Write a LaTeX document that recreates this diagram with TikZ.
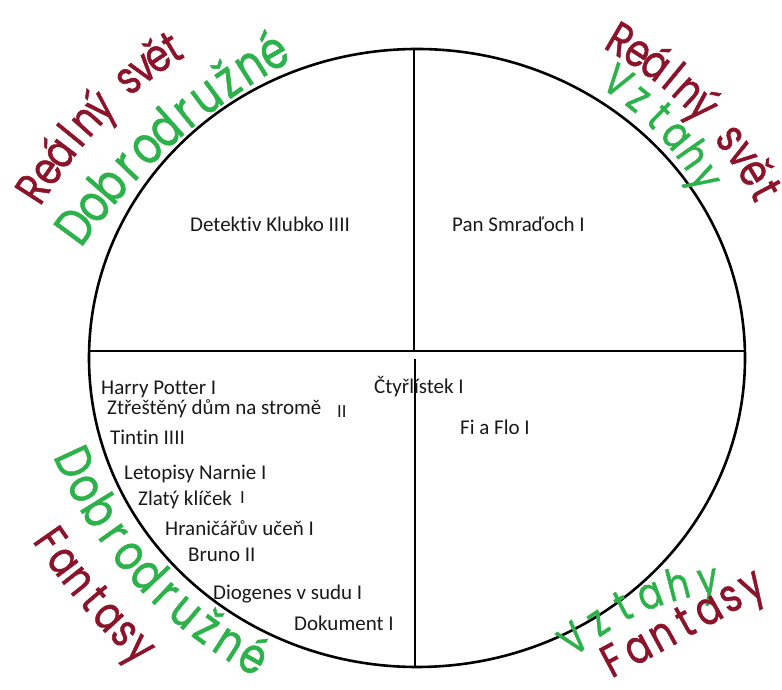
\documentclass[tikz,border=0pt]{standalone}
\usepackage{fontspec}
\setmainfont{Carlito}[Ligatures=NoCommon]
\newfontfamily\hand{Poppins}[FakeStretch=0.8,FakeBold=1]
\definecolor{hred}{RGB}{139,20,42}
\definecolor{hgreen}{RGB}{45,178,75}
\definecolor{ink}{RGB}{25,25,25}
% letters spread evenly along a curve
\newcommand\curvetext[8]{%
  \foreach \ch [count=\i] in {#8} {%
    \pgfmathsetmacro\lpos{(\i-0.5)/#3}%
    \path #4 .. controls #5 and #6 .. #7 node[#2, pos=\lpos] (#1\i) {\ch};
  }}
\begin{document}
\begin{tikzpicture}[x=1pt,y=1pt,
  book/.style={anchor=base west, inner sep=0pt, font=\fontsize{21}{24}\selectfont, text=ink},
  tally/.style={anchor=base west, inner sep=0pt, font=\fontsize{18.5}{20}\selectfont, text=ink},
  rim/.style={line width=2.6pt, draw=black},
  divider/.style={line width=2.4pt, draw=black},
  hw/.style={sloped, anchor=base, inner sep=0pt, text=#1},
  hs/.style={font=\hand\fontsize{#1}{#1}\selectfont},
]
\useasboundingbox (0,0) rectangle (782,690);
% circle
\draw[rim] (417,332) ellipse [x radius=328, y radius=309];
% divider lines
\coordinate (W) at (89,339);
\coordinate (E) at (745,339);
\coordinate (N) at (414,641);
\coordinate (C) at (414,339);
\coordinate (Cs) at (415,331);
\coordinate (S) at (415,23);
\draw[divider] (W) -- (E);
\draw[divider] (N) -- (C);
\draw[divider] (Cs) -- (S);
% books
\node[book] (detektiv) at (190,458) {Detektiv Klubko IIII};
\node[book] (pan) at (452,458) {Pan Smraďoch I};
\node[book] (harry) at (101,295.7) {Harry Potter I};
\node[book] (ztrest) at (107,275.7) {Ztřeštěný dům na stromě};
\node[tally] (ztrestII) at (337,272) {II};
\node[book] (tintin) at (110,245) {Tintin IIII};
\node[book] (letopisy) at (124,210.7) {Letopisy Narnie I};
\node[book] (zlaty) at (138,184) {Zlatý klíček};
\node[tally] (zlatyI) at (240,186) {I};
\node[book] (hranicar) at (165,154) {Hraničářův učeň I};
\node[book] (bruno) at (188,128.3) {Bruno II};
\node[book] (diogenes) at (213,90) {Diogenes v sudu I};
\node[book] (dokument) at (294,59.3) {Dokument I};
\node[book] (ctyr) at (374,296) {Čtyřlístek I};
\node[book] (fiaflo) at (460,255.7) {Fi a Flo I};
% handwritten labels
% top-left
\curvetext{tlr}{hw=hred,hs=46}{11}{(40,483)}{(84.3,554)}{(133.3,604.3)}{(187,634)}{R,e,á,l,n,ý,{},s,v,ě,t}
\curvetext{tlg}{hw=hgreen,hs=52}{11}{(82,443)}{(137,521.3)}{(207.3,583)}{(293,630)}{D,o,b,r,o,d,r,u,ž,n,é}
% top-right
\curvetext{trr}{hw=hred,hs=46}{11}{(603,642)}{(671.7,604.3)}{(723,551.3)}{(757,483)}{R,e,á,l,n,ý,{},s,v,ě,t}
\curvetext{trg}{hw=hgreen,hs=44}{6}{(598,604)}{(644,575)}{(678,538.7)}{(700,495)}{V,z,t,a,h,y}
% bottom-left
\curvetext{blg}{hw=hgreen,hs=50}{11}{(53,234)}{(95.3,134.7)}{(163.7,61.3)}{(258,12)}{D,o,b,r,o,d,r,u,ž,n,é}
\curvetext{blr}{hw=hred,hs=46}{7}{(30,152)}{(64.3,101.3)}{(100.7,58.7)}{(139,24)}{F,a,n,t,a,s,y}
% bottom-right
\curvetext{brg}{hw=hgreen,hs=44}{6}{(572,30)}{(614.7,70)}{(665.3,92.7)}{(724,98)}{V,z,t,a,h,y}
\curvetext{brr}{hw=hred,hs=46}{7}{(607,9)}{(667,40.7)}{(720.7,70)}{(769,99)}{F,a,n,t,a,s,y}
\end{tikzpicture}
\end{document}
